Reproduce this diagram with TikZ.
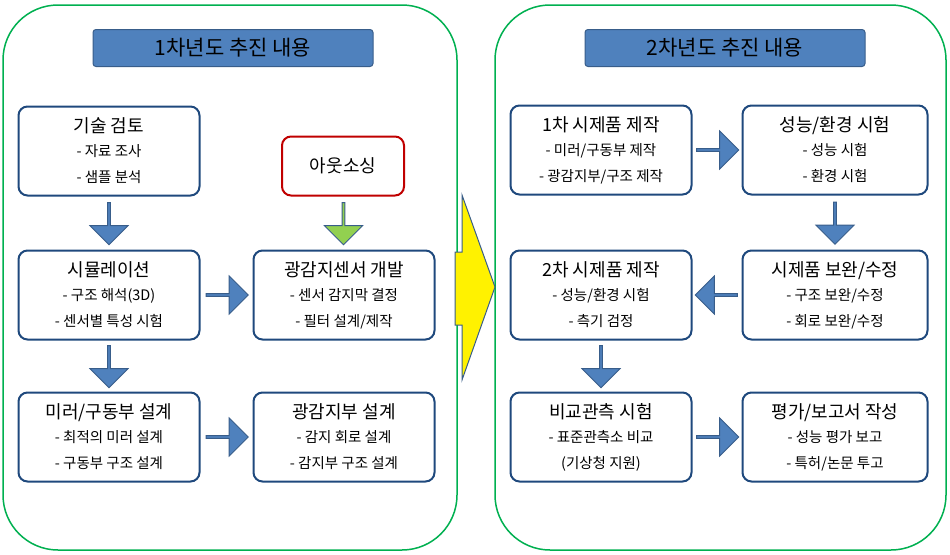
\documentclass[tikz,border=0pt]{standalone}
\usepackage{fontspec}
\setmainfont{Noto Sans CJK KR}
\usetikzlibrary{shapes.arrows,calc}
\definecolor{boxline}{RGB}{31,73,125}
\definecolor{titlefill}{RGB}{79,129,189}
\definecolor{arrowline}{RGB}{56,93,138}
\definecolor{panelline}{RGB}{0,176,80}
\definecolor{redline}{RGB}{192,0,0}
\definecolor{greenfill}{RGB}{146,208,80}
\tikzset{
  panel/.style={draw=panelline, line width=1.5pt, rounded corners=55pt},
  title/.style={draw=arrowline, fill=titlefill, line width=1pt, rounded corners=3pt, minimum width=280pt, minimum height=37pt, font=\fontsize{21}{24}\selectfont},
  stage/.style={draw=boxline, line width=2pt, fill=white, rounded corners=9pt, minimum width=181pt, minimum height=89pt, align=center, font=\fontsize{18}{26}\selectfont},
  blk/.style={single arrow, draw=arrowline, fill=titlefill, line width=1pt, minimum height=42pt, minimum width=38pt, single arrow head extend=6pt, inner sep=0pt},
}
\newcommand{\sublines}[3]{#1\\[-2pt]{\fontsize{14.5}{27}\selectfont #2}\\{\fontsize{14.5}{27}\selectfont #3}}
\begin{document}
\begin{tikzpicture}[x=1pt,y=-1pt]
\useasboundingbox (0,0) rectangle (950,554);
% panels
\draw[panel] (3,5) rectangle (457,550);
\draw[panel] (495,5) rectangle (946,550);
\node[title] (t1) at (233,48) {1차년도 추진 내용};
\node[title] (t2) at (725,48) {2차년도 추진 내용};
% first year
\node[stage] (review) at (109,151) {\sublines{기술 검토}{- 자료 조사}{- 샘플 분석}};
\node[stage, draw=redline, minimum width=122pt, minimum height=59pt] (out) at (343,166) {아웃소싱};
\node[stage] (sim) at (109,295) {\sublines{시뮬레이션}{- 구조 해석(3D)}{- 센서별 특성 시험}};
\node[stage] (sensor) at (344,295) {\sublines{광감지센서 개발}{- 센서 감지막 결정}{- 필터 설계/제작}};
\node[stage] (mirror) at (109,437) {\sublines{미러/구동부 설계}{- 최적의 미러 설계}{- 구동부 구조 설계}};
\node[stage] (detect) at (344,437) {\sublines{광감지부 설계}{- 감지 회로 설계}{- 감지부 구조 설계}};
% second year
\node[stage] (proto1) at (601,150) {\sublines{1차 시제품 제작}{- 미러/구동부 제작}{- 광감지부/구조 제작}};
\node[stage, minimum width=185pt] (test) at (835,150) {\sublines{성능/환경 시험}{- 성능 시험}{- 환경 시험}};
\node[stage] (proto2) at (601,295) {\sublines{2차 시제품 제작}{- 성능/환경 시험}{- 측기 검정}};
\node[stage, minimum width=185pt] (fix) at (835,295) {\sublines{시제품 보완/수정}{- 구조 보완/수정}{- 회로 보완/수정}};
\node[stage] (compare) at (601,437) {\sublines{비교관측 시험}{- 표준관측소 비교}{(기상청 지원)}};
\node[stage, minimum width=185pt] (report) at (835,437) {\sublines{평가/보고서 작성}{- 성능 평가 보고}{- 특허/논문 투고}};
% block arrows
\node[blk, rotate=-90] (a1) at ($(review.south)!0.5!(sim.north)$) {};
\node[blk, rotate=-90] (a2) at ($(sim.south)!0.5!(mirror.north)$) {};
\node[blk] (a3) at ($(sim.east)!0.5!(sensor.west)$) {};
\node[blk] (a4) at ($(mirror.east)!0.5!(detect.west)$) {};
\node[blk, rotate=-90, fill=greenfill, draw=arrowline] (a5) at ($(out.south)!0.5!(sensor.north)$) {};
\node[blk] (b1) at ($(proto1.east)!0.5!(test.west)$) {};
\node[blk, rotate=-90] (b2) at ($(test.south)!0.5!(fix.north)$) {};
\node[blk, rotate=180] (b3) at ($(fix.west)!0.5!(proto2.east)$) {};
\node[blk, rotate=-90] (b4) at ($(proto2.south)!0.5!(compare.north)$) {};
\node[blk] (b5) at ($(compare.east)!0.5!(report.west)$) {};
% year to year
\draw[draw=arrowline, fill=yellow, line width=1pt] (455,252) -- (462,252) -- (462,195) -- (495,287) -- (462,380) -- (462,325) -- (455,325) -- cycle;
\end{tikzpicture}
\end{document}
